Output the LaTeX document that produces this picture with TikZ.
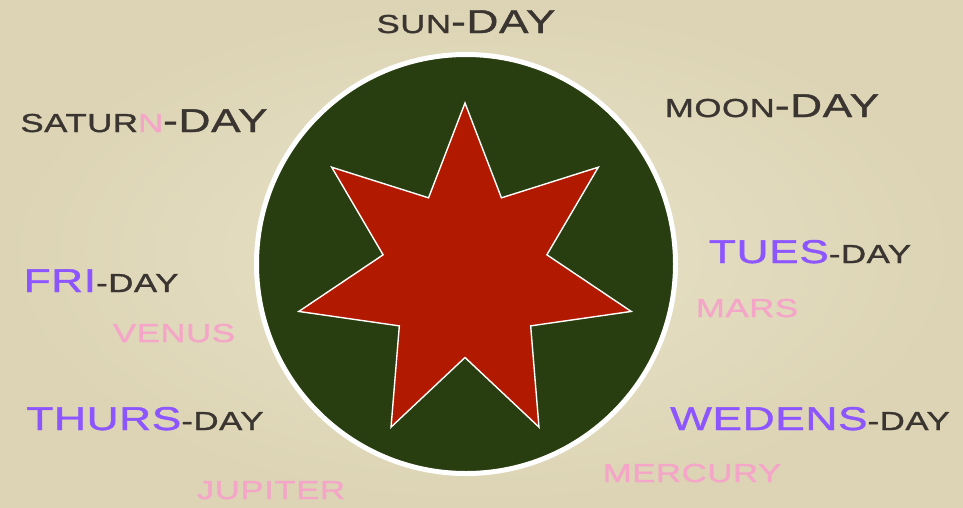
\documentclass[tikz,border=0pt]{standalone}
\usepackage{fontspec}
\usetikzlibrary{calc}
\newfontfamily\cpfont[FakeStretch=1.34,FakeBold=1.2,LetterSpace=2]{Liberation Sans}
\definecolor{bgbeige}{HTML}{E8E2C8}
\definecolor{bgedge}{HTML}{DCD4B4}
\definecolor{inkdark}{HTML}{3A3530}
\definecolor{dayviolet}{HTML}{8C55FF}
\definecolor{planetpink}{HTML}{F4A5C8}
\definecolor{discgreen}{HTML}{283E10}
\definecolor{starred}{HTML}{B21A00}
\newcommand{\smsize}{\fontsize{26}{26}\selectfont}
\newcommand{\bgsize}{\fontsize{33}{33}\selectfont}
\newcommand{\smc}[1]{{\smsize #1}}
\newcommand{\bgc}[1]{{\bgsize #1}}
\tikzset{
  daylabel/.style={anchor=base,inner sep=0pt,font=\cpfont,text=inkdark},
  planet/.style={anchor=base,inner sep=0pt,font=\cpfont\smsize,text=planetpink},
  disc/.style={fill=discgreen,draw=white,line width=5pt},
  starline/.style={fill=starred,draw=white,line width=1.4pt,line join=miter}
}

\begin{document}
\begin{tikzpicture}[x=1pt,y=-1pt]
\useasboundingbox (0,0) rectangle (963,507);
\shade[inner color=bgbeige,outer color=bgedge] (0,0) rectangle (963,507);
% disc and seven-pointed star
\draw[disc] (466,264) circle (209.5);
\coordinate (starc) at (465,273.5);
\foreach \k in {0,...,13}{
  \pgfmathsetmacro{\rr}{mod(\k,2)==0 ? 170.5 : 84}
  \coordinate (p\k) at ($(starc)+(270+\k*180/7:\rr)$);
}
\draw[starline] (p0) \foreach \k in {1,...,13}{ -- (p\k)} -- cycle;
% day names
\foreach \n/\x/\y/\t in {
  sun/466/33/{\smc{SUN}\bgc{-DAY}},
  saturn/144/132/{\smc{SATUR\textcolor{planetpink}{N}}\bgc{-DAY}},
  moon/772/117/{\smc{MOON}\bgc{-DAY}},
  fri/101/292/{\textcolor{dayviolet}{\bgc{FRI}}\smc{-DAY}},
  thurs/145/430/{\textcolor{dayviolet}{\bgc{THURS}}\smc{-DAY}},
  tues/810/263/{\textcolor{dayviolet}{\bgc{TUES}}\smc{-DAY}},
  wedens/810/430/{\textcolor{dayviolet}{\bgc{WEDENS}}\smc{-DAY}}}
  \node[daylabel] (\n) at (\x,\y) {\t};
% planets
\foreach \n/\x/\y/\t in {venus/174/342/VENUS, jupiter/271/499/JUPITER,
  mars/747/317/MARS, mercury/692/482/MERCURY}
  \node[planet] (\n) at (\x,\y) {\t};
\end{tikzpicture}
\end{document}
